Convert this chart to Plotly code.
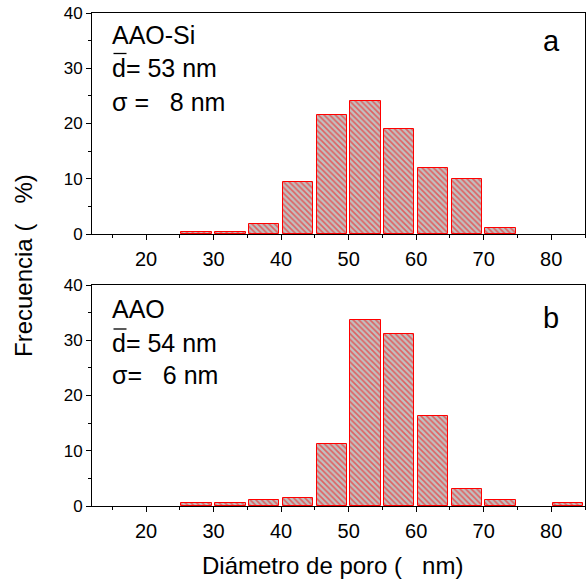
import plotly.graph_objects as go

# Pore-diameter histogram bins (nm) and relative frequencies (%)
bin_centers = [27.5, 32.5, 37.5, 42.5, 47.5, 52.5, 57.5, 62.5, 67.5, 72.5, 77.5, 82.5]
freq_aao_si = [0.4, 0.4, 1.9, 9.5, 21.5, 24.0, 19.0, 11.9, 10.0, 1.0, 0.0, 0.0]
freq_aao = [0.5, 0.5, 1.0, 1.5, 11.2, 33.6, 31.2, 16.3, 3.1, 1.0, 0.0, 0.5]

x_ticks = [20, 30, 40, 50, 60, 70, 80]
y_ticks = [0, 10, 20, 30, 40]

FONT = "Liberation Sans, Arial, sans-serif"
BAR_WIDTH = 4.5

# figure geometry (pixels)
W, H = 586, 582
ML, MR, MT, MB = 92, 1, 13, 76
PW, PH = W - ML - MR, H - MT - MB


def px(xp):
    return (xp - ML) / PW


def py(yp):
    return (H - MB - yp) / PH


def bar_trace(values, xa, ya):
    xs = [c for c, v in zip(bin_centers, values) if v > 0]
    ys = [v for v in values if v > 0]
    return go.Bar(
        x=xs, y=ys, width=[BAR_WIDTH] * len(xs), xaxis=xa, yaxis=ya,
        marker=dict(
            color="#c0c0c0",
            line=dict(color="#ff0000", width=1),
            pattern=dict(shape="\\", fgcolor="#ff0000", bgcolor="#c0c0c0",
                         size=4, solidity=0.4),
        ),
        showlegend=False,
    )


fig = go.Figure()
fig.add_trace(bar_trace(freq_aao_si, "x", "y"))
fig.add_trace(bar_trace(freq_aao, "x2", "y2"))

xaxis_common = dict(
    range=[12, 85], tickvals=x_ticks, ticks="outside", ticklen=5, tickwidth=1,
    tickcolor="black", showline=True, linecolor="black", linewidth=1, mirror=True,
    showgrid=False, zeroline=False, ticklabelstandoff=2,
    tickfont=dict(family=FONT, size=20, color="black"),
    minor=dict(dtick=10, tick0=15, ticks="outside", ticklen=3, tickcolor="black"),
)
yaxis_common = dict(
    range=[0, 40], tickvals=y_ticks, ticks="outside", ticklen=5, tickwidth=1,
    tickcolor="black", showline=True, linecolor="black", linewidth=1, mirror=True,
    showgrid=False, zeroline=False,
    tickfont=dict(family=FONT, size=17, color="black"),
    minor=dict(dtick=10, tick0=5, ticks="outside", ticklen=3, tickcolor="black"),
)

top_bottom = py(234)
bot_top = py(285)

fig.update_layout(
    width=W, height=H,
    margin=dict(l=ML, r=MR, t=MT, b=MB),
    paper_bgcolor="white", plot_bgcolor="white",
    bargap=0,
    xaxis=dict(xaxis_common, anchor="y", domain=[0, 1]),
    yaxis=dict(yaxis_common, anchor="x", domain=[top_bottom, 1]),
    xaxis2=dict(xaxis_common, anchor="y2", domain=[0, 1]),
    yaxis2=dict(yaxis_common, anchor="x2", domain=[0, bot_top]),
)

nb = "\u00a0"
TEXT_SIZE = 25
labels = [
    ("AAO-Si", 110, 34.5),
    ("d= 53 nm", 110, 67.5),
    ("\u03c3 =" + nb * 3 + "8 nm", 110, 101.5),
    ("AAO", 110, 308.5),
    ("d= 54 nm", 110, 342.5),
    ("\u03c3=" + nb * 3 + "6 nm", 110, 375),
]
for text, xp, yp in labels:
    fig.add_annotation(
        text=text, xref="paper", yref="paper", x=px(xp), y=py(yp),
        xanchor="left", yanchor="middle", showarrow=False,
        font=dict(family=FONT, size=TEXT_SIZE, color="black"),
    )

# overline marking the mean diameter symbol
for yp in (53.5, 329):
    fig.add_shape(
        type="line", xref="paper", yref="paper",
        x0=px(113.5), x1=px(126.5), y0=py(yp), y1=py(yp),
        line=dict(color="black", width=1.3),
    )

for text, xp, yp in [("a", 551, 41), ("b", 551, 318)]:
    fig.add_annotation(
        text=text, xref="paper", yref="paper", x=px(xp), y=py(yp),
        xanchor="center", yanchor="middle", showarrow=False,
        font=dict(family=FONT, size=29, color="black"),
    )

# axis titles
fig.add_annotation(
    text="Diámetro de poro (" + nb * 3 + "nm)", xref="paper", yref="paper",
    x=px(332.5), y=py(565), xanchor="center", yanchor="middle", showarrow=False,
    font=dict(family=FONT, size=24, color="black"),
)
fig.add_annotation(
    text="Frecuencia (" + nb * 3 + "%)", xref="paper", yref="paper",
    x=px(23), y=py(266), xanchor="center", yanchor="middle", showarrow=False,
    textangle=-90, font=dict(family=FONT, size=24, color="black"),
)

fig.write_html("out.html")
